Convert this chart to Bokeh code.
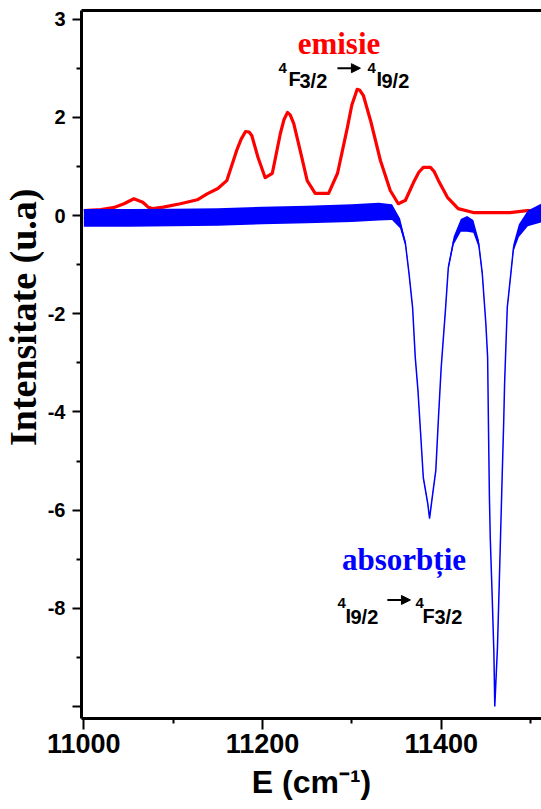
from bokeh.plotting import figure
from bokeh.models import (Range1d, FixedTicker, LinearAxis, Label, Arrow,
                          NormalHead, Title)
from bokeh.embed import file_html
from bokeh.resources import INLINE

# ---- emission (red) ----
em_x = [11000, 11019, 11033, 11045, 11056, 11066, 11072, 11077, 11089, 11108,
        11127, 11138, 11150, 11160, 11171, 11176, 11181, 11185, 11188, 11195,
        11203, 11211, 11220, 11224, 11228, 11231, 11235, 11243, 11250, 11259,
        11274, 11284, 11295, 11300, 11306, 11309, 11313, 11321, 11332, 11343,
        11352, 11360, 11366, 11369, 11375, 11380, 11388, 11392, 11397, 11407,
        11419, 11436, 11477, 11496, 11512]
em_y = [0.10, 0.12, 0.16, 0.24, 0.34, 0.27, 0.17, 0.14, 0.17, 0.24,
        0.32, 0.44, 0.55, 0.71, 1.32, 1.55, 1.71, 1.70, 1.63, 1.18,
        0.77, 0.86, 1.67, 1.95, 2.10, 2.05, 1.87, 1.26, 0.71, 0.45,
        0.45, 0.86, 1.79, 2.25, 2.57, 2.55, 2.44, 1.93, 1.12, 0.51,
        0.24, 0.31, 0.55, 0.67, 0.88, 0.98, 0.98, 0.90, 0.71, 0.37,
        0.14, 0.06, 0.06, 0.10, 0.10]

# ---- absorption (blue): centre value and half-width of the noise band ----
ab_x = [11000, 11050, 11100, 11150, 11200, 11250, 11300, 11330, 11345, 11354,
        11360, 11364, 11368, 11371, 11374, 11377, 11380, 11385, 11387, 11390,
        11394, 11397, 11400, 11405, 11408, 11414, 11422, 11429, 11436, 11442,
        11446, 11450, 11452, 11453, 11454, 11455, 11457, 11459, 11460, 11461,
        11463, 11465, 11466.5, 11468, 11470, 11471, 11472, 11474, 11478, 11481,
        11487, 11497, 11512]
ab_y = [-0.05, -0.05, -0.04, -0.03, 0.00, 0.02, 0.05, 0.08, 0.07, -0.16,
        -0.57, -1.18, -1.87, -2.89, -3.56, -4.44, -5.34, -5.87, -6.17, -5.74,
        -5.19, -4.11, -3.10, -1.87, -1.06, -0.51, -0.20, -0.17, -0.22, -0.57,
        -1.18, -2.20, -2.89, -4.38, -5.74, -6.60, -7.70, -8.90, -10.00, -9.60,
        -8.80, -7.50, -6.50, -5.50, -4.20, -3.42, -2.89, -1.87, -1.18, -0.65,
        -0.31, -0.06, 0.05]
ab_noise = [0.18, 0.18, 0.18, 0.18, 0.18, 0.18, 0.18, 0.18, 0.16, 0.10,
            0.06, 0.04, 0.03, 0.03, 0.03, 0.03, 0.03, 0.03, 0.03, 0.03,
            0.03, 0.03, 0.03, 0.03, 0.05, 0.08, 0.13, 0.16, 0.13, 0.08,
            0.05, 0.03, 0.03, 0.03, 0.03, 0.03, 0.03, 0.03, 0.03, 0.03,
            0.03, 0.03, 0.03, 0.03, 0.03, 0.03, 0.03, 0.03, 0.05, 0.08,
            0.13, 0.16, 0.19]

# ---- ticks ----
y_ticks = [4, 2, 0, -2, -4, -6, -8, -10]
y_tick_labels = ["3", "2", "0", "-2", "-4", "-6", "-8", ""]
y_minor = [3, 1, -1, -3, -5, -7, -9]
x_ticks = [11000, 11200, 11400]
x_minor = [11100, 11300, 11500]

p = figure(width=541, height=809,
           x_range=Range1d(10997.4, 11512.3), y_range=Range1d(-10.244, 4.175),
           output_backend="svg", toolbar_location=None,
           min_border_left=81, min_border_right=0,
           min_border_top=10, min_border_bottom=91)
p.grid.visible = False
p.outline_line_color = None
p.background_fill_color = "white"
p.border_fill_color = "white"

# axes
p.xaxis.ticker = FixedTicker(ticks=x_ticks, minor_ticks=x_minor)
p.yaxis.ticker = FixedTicker(ticks=y_ticks, minor_ticks=y_minor)
p.yaxis.major_label_overrides = {t: l for t, l in zip(y_ticks, y_tick_labels)}
for ax in (p.xaxis[0], p.yaxis[0]):
    ax.axis_line_width = 3
    ax.axis_line_color = "black"
    ax.major_tick_line_width = 2
    ax.minor_tick_line_width = 2
    ax.major_tick_in = 0
    ax.minor_tick_in = 0
    ax.major_label_text_font = "Liberation Sans"
    ax.major_label_text_font_style = "bold"
    ax.major_label_text_color = "black"
    ax.axis_label_text_color = "black"
    ax.axis_label_text_font_style = "bold"
p.xaxis.major_tick_out = 11
p.xaxis.minor_tick_out = 5
p.xaxis.major_label_text_font_size = "27px"
p.xaxis.major_label_standoff = 4
p.xaxis.axis_label = "E (cm⁻¹)"
p.xaxis.axis_label_text_font = "Liberation Sans"
p.xaxis.axis_label_text_font_size = "32px"
p.xaxis.axis_label_standoff = 8

p.yaxis.major_tick_out = 9
p.yaxis.minor_tick_out = 5
p.yaxis.major_label_text_font_size = "20px"
p.yaxis.major_label_standoff = 7

# y title, placed toward the upper part of the axis as in the original
p.add_layout(Title(text="Intensitate (u.a)", align="right", offset=178,
                   vertical_align="middle", standoff=0,
                   text_font="Liberation Serif", text_font_style="bold",
                   text_font_size="38px", text_color="black"), "left")

top = LinearAxis(ticker=FixedTicker(ticks=[]), axis_line_width=3,
                 major_tick_out=0, minor_tick_out=0, major_label_standoff=0,
                 major_label_text_font_size="0px")
p.add_layout(top, "above")

# data
lower = [c - h for c, h in zip(ab_y, ab_noise)]
upper = [c + h for c, h in zip(ab_y, ab_noise)]
p.line(em_x, em_y, line_color="#ff0000", line_width=3.2, line_join="round")
p.varea(x=ab_x, y1=lower, y2=upper, fill_color="#0000ff")
p.line(ab_x, ab_y, line_color="#0000ff", line_width=1.5)

# annotations
def lab(text, x, y, size, dx=0, dy=0, color="black", font="Liberation Sans",
        align="left"):
    p.add_layout(Label(x=x, y=y, x_offset=dx, y_offset=dy, text=text,
                       text_font=font, text_font_style="bold",
                       text_font_size=size, text_color=color,
                       text_align=align, text_baseline="alphabetic"))

lab("emisie", 11285.6, 3.503, "31px", color="#ff0000",
    font="Liberation Serif", align="center")
lab("absorbție", 11358.4, -7.006, "31px", color="#0000ff",
    font="Liberation Serif", align="center")

# 4F3/2 -> 4I9/2
ax1, ay1 = 11217.9, 2.79
lab("4", ax1, ay1, "15px", dx=0, dy=11)
lab("F", ax1, ay1, "20px", dx=10)
lab("3/2", ax1, ay1, "20px", dx=21, dy=-2)
lab("4", ax1, ay1, "15px", dx=89, dy=11)
lab("I", ax1, ay1, "20px", dx=98)
lab("9/2", ax1, ay1, "20px", dx=103, dy=-2)
p.add_layout(Arrow(end=NormalHead(size=9, fill_color="black", line_color="black"),
                   x_start=11283.9, y_start=3.0, x_end=11309.6, y_end=3.0,
                   line_width=2, line_color="black"))

# 4I9/2 -> 4F3/2
ax2, ay2 = 11283.9, -8.147
lab("4", ax2, ay2, "15px", dx=0, dy=13)
lab("I", ax2, ay2, "20px", dx=8)
lab("9/2", ax2, ay2, "20px", dx=13, dy=-1)
lab("4", ax2, ay2, "15px", dx=78, dy=13)
lab("F", ax2, ay2, "20px", dx=85)
lab("3/2", ax2, ay2, "20px", dx=97, dy=-1)
p.add_layout(Arrow(end=NormalHead(size=9, fill_color="black", line_color="black"),
                   x_start=11339.8, y_start=-7.83, x_end=11365.6, y_end=-7.83,
                   line_width=2, line_color="black"))

open("out.html", "w").write(file_html(p, INLINE))
